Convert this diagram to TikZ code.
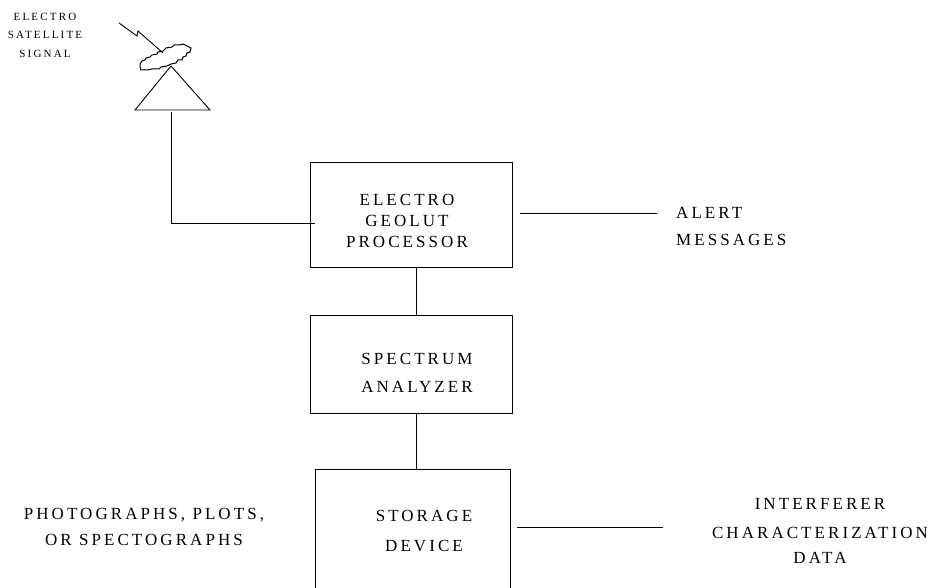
\documentclass[tikz,border=0pt]{standalone}
\usepackage{fontspec}
\setmainfont{Liberation Serif}
\newfontfamily\widefont[LetterSpace=18]{Liberation Serif}
\newfontfamily\smallfont[LetterSpace=20]{Liberation Serif}
\usetikzlibrary{positioning}
\tikzset{
	blockbox/.style={draw,minimum width=202pt,inner sep=0pt,line width=0.9pt},
	blocktext/.style={align=center,inner sep=0pt,font=\fontsize{17}{#1}\widefont},
	blocktext/.default=21,
	signaltext/.style={align=center,inner sep=0pt,font=\fontsize{11}{18.5}\smallfont},
	wire/.style={line width=0.9pt}
}
\begin{document}
\begin{tikzpicture}[x=1pt,y=-1pt]
	
	\clip (0,0) rectangle (930,588);
	\useasboundingbox (0,0) rectangle (930,588);
	
	\node (processor) [blockbox,minimum height=105pt] at (411,214.5) {};
	\node (analyzer) [blockbox,minimum height=98pt,below=48pt of processor] {};
	\node (storage) [blockbox,minimum width=195pt,minimum height=160pt,anchor=north] at (412.5,469) {};
	
	\node (processortext) [blocktext] at (407,221) {ELECTRO\\GEOLUT\\PROCESSOR};
	\node (analyzertext) [blocktext=28] at (417,373) {SPECTRUM\\ANALYZER};
	\node (storagetext) [blocktext=30] at (424,531) {STORAGE\\DEVICE};
	\node (alerttext) [blocktext=27,align=left,anchor=west] at (676,226.5) {ALERT\\MESSAGES};
	\node (interferertext) [blocktext=29] at (820,531) {INTERFERER\\CHARACTERIZATION\\[-4pt]DATA};
	\node (phototext) [blocktext=26] at (144,526.5) {PHOTOGRAPHS, PLOTS,\\OR SPECTOGRAPHS};
	\node (signaltext) [signaltext] at (45,35) {ELECTRO\\SATELLITE\\SIGNAL};
	
	% antenna
	\coordinate (apex) at (171,66);
	\coordinate (baseleft) at (135,110);
	\coordinate (baseright) at (210,110);
	\draw[wire] (apex)--(baseright)--(baseleft)--cycle;
	\draw[line width=1pt] (140,67)--(140,64)--(142,61)--(145,60)--(146,58)--(150,57)--(152,55)--(157,54)--(158,52)--(163,51)--(166,48)--(172,47)--(174,45)--(180,45)--(183,44)--(187,46)--(191,48)--(190,52)--(187,53)--(186,56)--(183,57)--(182,60)--(178,60)--(176,63)--(171,64)--(167,66)--(161,67)--(159,69)--(152,69)--(147,70)--(141,70)--cycle;
	\coordinate (boltstart) at (119,23);
	\coordinate (boltbend) at (137,36);
	\coordinate (boltback) at (138,31);
	\coordinate (boltend) at (163,53);
	\draw[wire] (boltstart)--(boltbend)--(boltback)--(boltend);
	
	% wires
	\coordinate (feedtop) at (171,112);
	\coordinate (feedend) at (315,223);
	\coordinate (alertend) at (657,213);
	\coordinate (alertstart) at (520,213);
	\coordinate (datastart) at (517,527);
	\coordinate (dataend) at (663,527);
	\draw[wire] (feedtop)|-(feedend);
	\draw[wire] (alertstart)--(alertend);
	\draw[wire] (datastart)--(dataend);
	\draw[wire] ([xshift=5pt]processor.south)--([xshift=5pt]analyzer.north);
	\draw[wire] ([xshift=5pt]analyzer.south)--([xshift=5pt]analyzer.south|-storage.north);
	
\end{tikzpicture}
\end{document}
